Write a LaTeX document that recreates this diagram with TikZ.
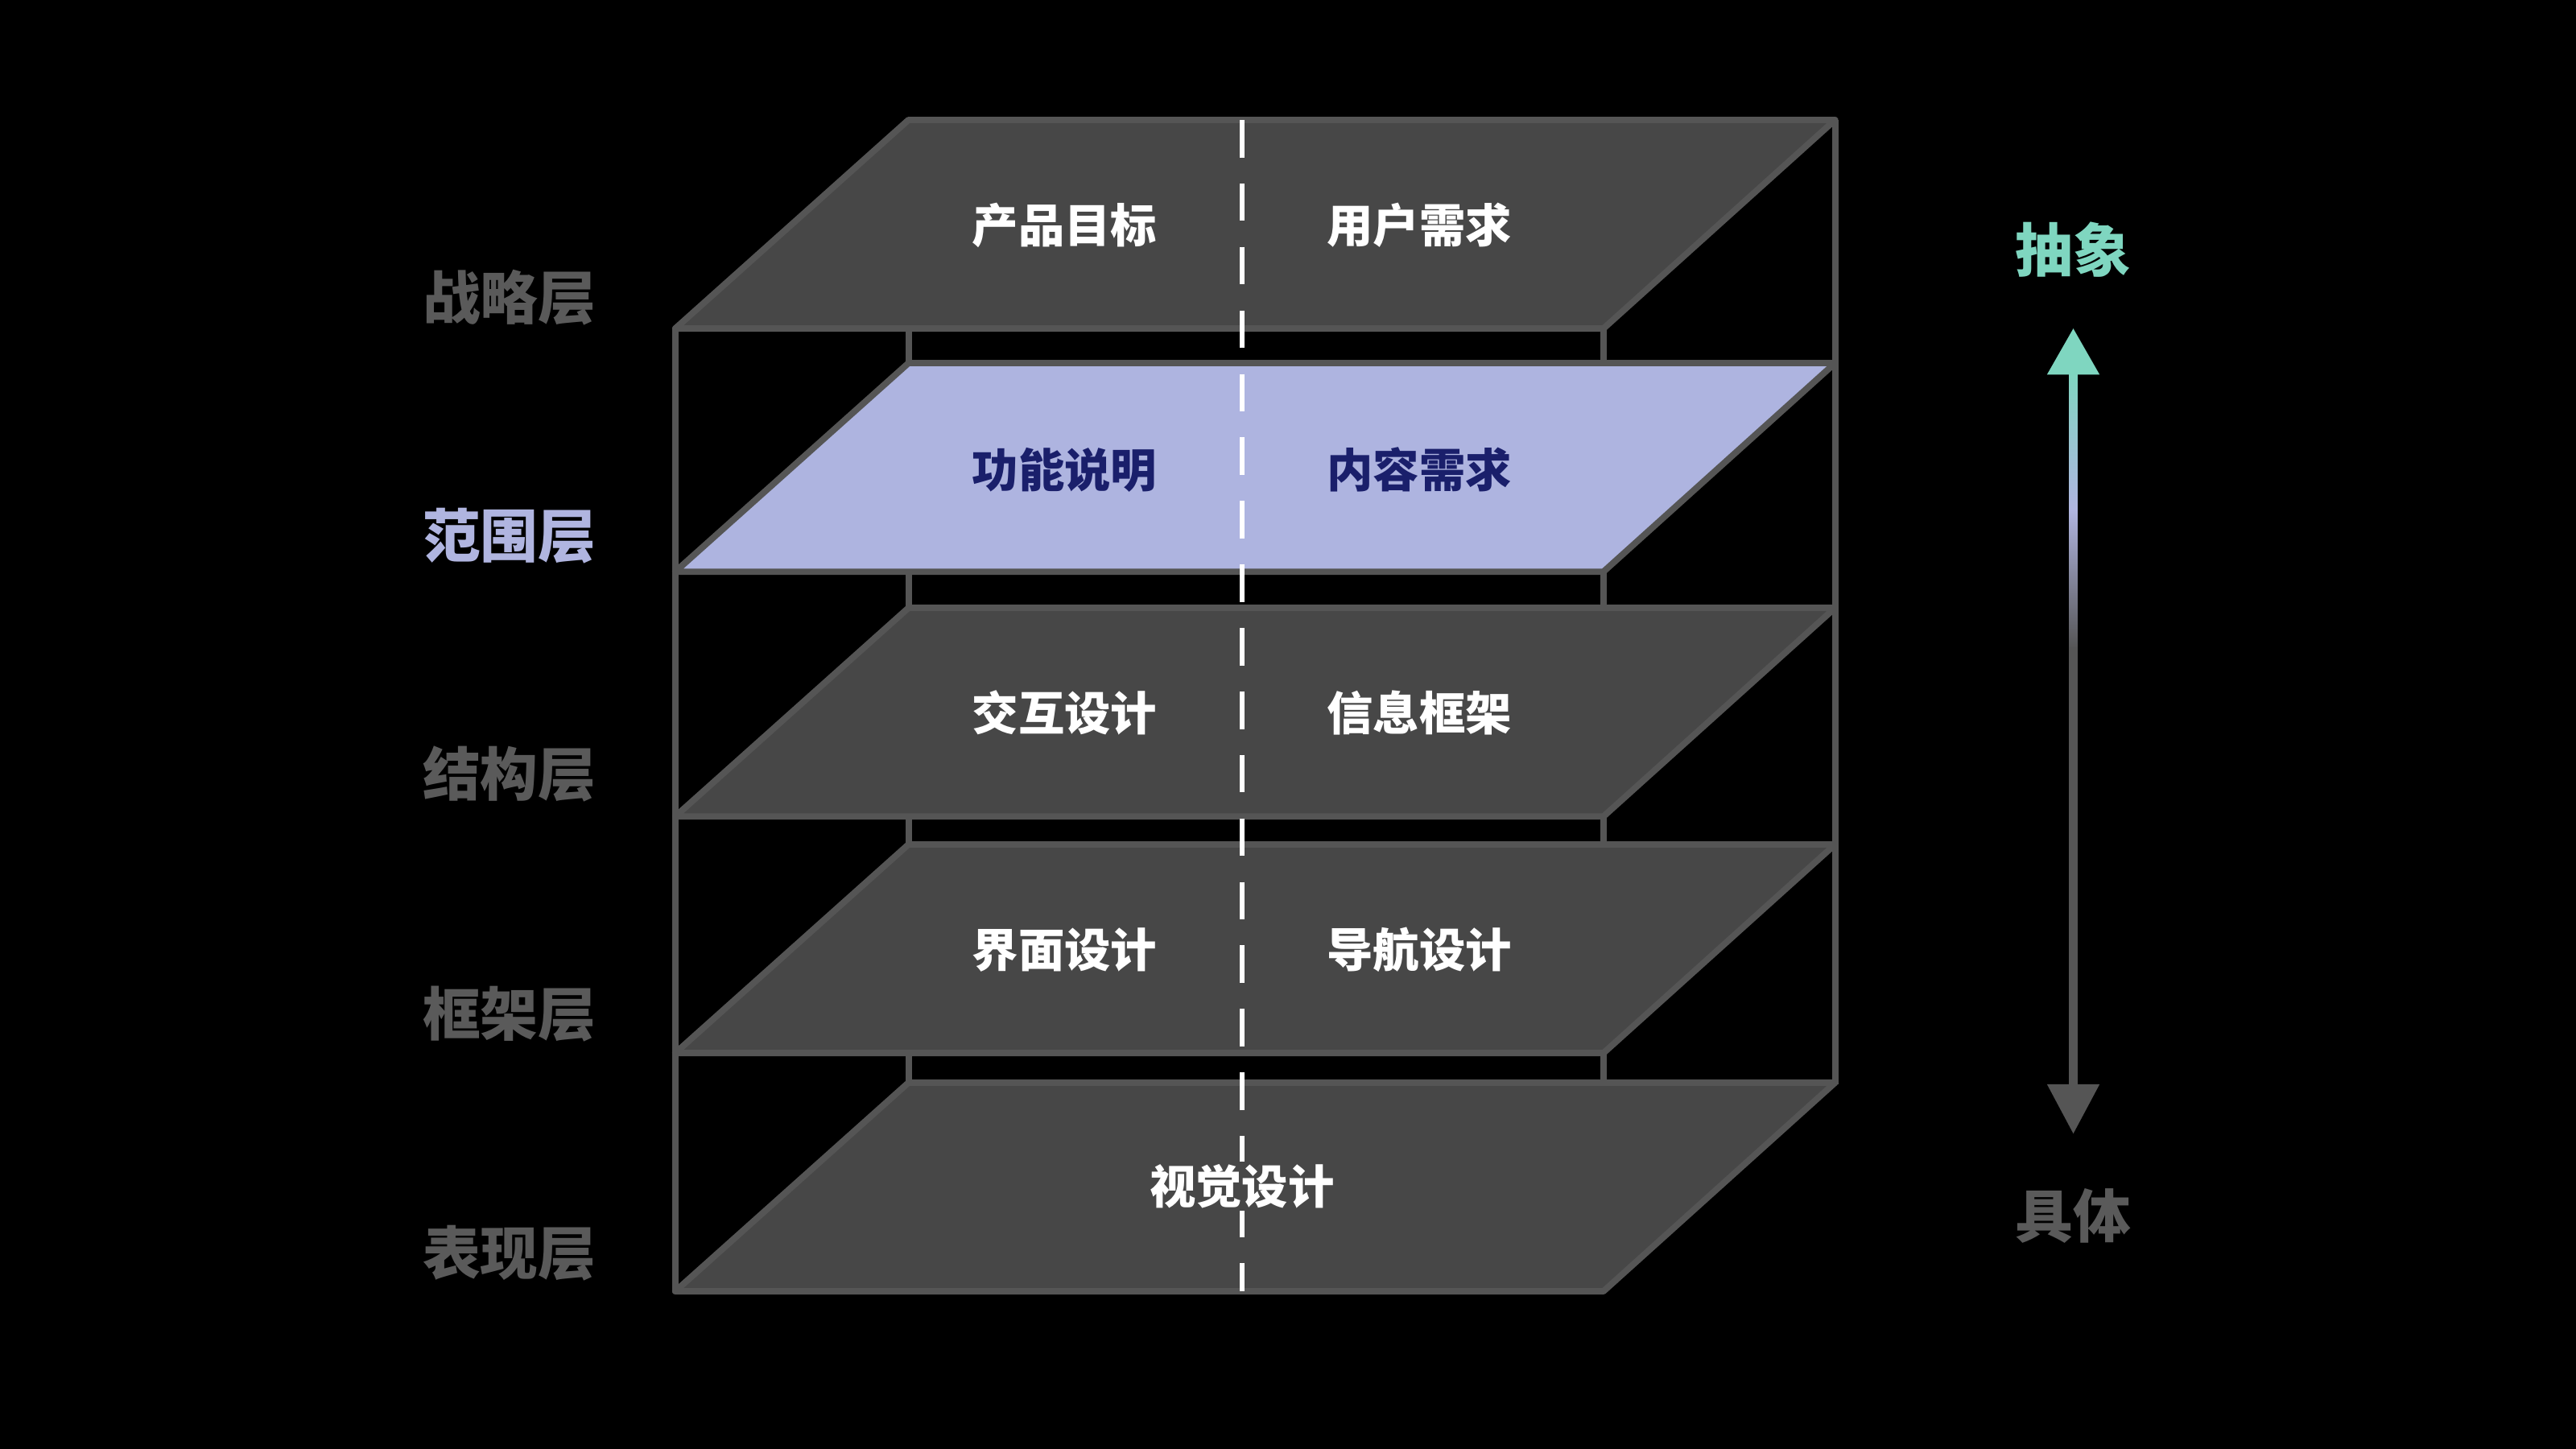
\documentclass[tikz,border=0pt]{standalone}
\usepackage{fontspec}
\newfontfamily\cjk{Noto Sans CJK SC}
\begin{document}
\begin{tikzpicture}[x=0.02cm,y=-0.02cm,
  edge/.style={draw=black!40!white!45!black, line width=2.2pt},
  layer/.style={edge, fill=black!72!white, line join=round},
  hl/.style={edge, fill=hlc, line join=round},
  side/.style={font=\cjk\bfseries\fontsize{20}{24}\selectfont, text=sidec},
  inner/.style={font=\cjk\bfseries\fontsize{16}{20}\selectfont, text=white},
  innerhl/.style={font=\cjk\bfseries\fontsize{16}{20}\selectfont, text=navy}]
\definecolor{hlc}{HTML}{AEB4E0}
\definecolor{navy}{HTML}{1A1F6B}
\definecolor{sidec}{HTML}{5A5A5A}
\definecolor{teal}{HTML}{7FD6C0}
\definecolor{lav}{HTML}{B0B5E0}
\definecolor{edgec}{HTML}{555555}
\tikzset{edge/.style={draw=edgec, line width=2.2pt}}
\fill[black] (0,0) rectangle (1568,882);
\useasboundingbox (0,0) rectangle (1568,882);
% vertical posts
\foreach \x/\a/\b in {411/200/786, 553/73/660, 976/200/786, 1117/73/660}
  \draw[edge] (\x,\a) -- (\x,\b);
% layers
\foreach \f/\s in {200/layer, 348/hl, 497/layer, 641/layer, 786/layer}{
  \pgfmathsetmacro{\bk}{\f-127}
  \draw[\s] (411,\f) -- (553,\bk) -- (1117,\bk) -- (976,\f) -- cycle;
}
% dashed center
\draw[white, line width=1.6pt, dash pattern=on 13pt off 9pt] (756,73) -- (756,786);
% inner labels
\node[inner] (a1) at (648,137) {产品目标};
\node[inner] (a2) at (864,137) {用户需求};
\node[innerhl] (b1) at (648,286) {功能说明};
\node[innerhl] (b2) at (864,286) {内容需求};
\node[inner] (c1) at (648,434) {交互设计};
\node[inner] (c2) at (864,434) {信息框架};
\node[inner] (d1) at (648,578) {界面设计};
\node[inner] (d2) at (864,578) {导航设计};
\node[inner, fill=black!72!white, inner sep=1pt] (e1) at (756,722) {视觉设计};
% side labels
\node[side] (s1) at (310,181) {战略层};
\node[side, text=lav] (s2) at (310,326) {范围层};
\node[side] (s3) at (310,471) {结构层};
\node[side] (s4) at (310,617) {框架层};
\node[side] (s5) at (310,763) {表现层};
% arrow
\shade[top color=teal, bottom color=edgec, middle color=lav] (1259.5,226) rectangle (1264.5,395);
\fill[edgec] (1259.5,394) rectangle (1264.5,662);
\fill[teal] (1262,200) -- (1278,228) -- (1246,228) -- cycle;
\fill[edgec] (1262,690) -- (1278,660) -- (1246,660) -- cycle;
\node[side, text=teal] (t1) at (1262,152) {抽象};
\node[side] (t2) at (1262,740) {具体};
\end{tikzpicture}
\end{document}
